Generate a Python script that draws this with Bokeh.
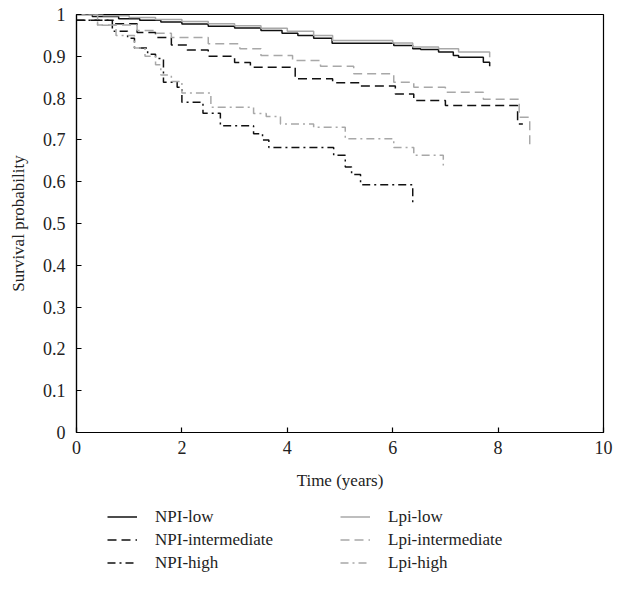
from bokeh.plotting import figure
from bokeh.layouts import column
from bokeh.models import Legend, LegendItem, FixedTicker, Range1d
from bokeh.embed import file_html
from bokeh.resources import INLINE

# ---- data ----
npi_low_t = [0, 0.3, 0.8, 1.2, 1.6, 2.0, 2.5, 3.0, 3.5, 3.9, 4.2, 4.5, 4.85, 6.02, 6.38, 6.53, 6.87, 7.15, 7.25, 7.72, 7.84]
npi_low_s = [1.0, 0.995, 0.99, 0.986, 0.982, 0.977, 0.972, 0.968, 0.962, 0.955, 0.95, 0.943, 0.931, 0.926, 0.918, 0.916, 0.91, 0.902, 0.898, 0.886, 0.876]

lpi_low_t = [0, 0.5, 1.0, 1.5, 2.0, 2.5, 3.0, 3.5, 4.0, 4.5, 4.86, 6.0, 6.38, 6.87, 7.25, 7.84]
lpi_low_s = [1.0, 0.997, 0.993, 0.988, 0.983, 0.978, 0.973, 0.967, 0.96, 0.95, 0.938, 0.932, 0.922, 0.918, 0.91, 0.898]

npi_int_t = [0, 0.7, 1.15, 1.5, 1.8, 2.1, 2.5, 3.0, 3.3, 4.15, 4.86, 5.39, 6.05, 6.4, 7.0, 8.37, 8.47]
npi_int_s = [0.986, 0.978, 0.957, 0.945, 0.927, 0.915, 0.9, 0.885, 0.874, 0.846, 0.837, 0.829, 0.81, 0.794, 0.782, 0.738, 0.738]

lpi_int_t = [0, 0.4, 1.15, 1.5, 1.8, 2.5, 3.1, 3.5, 4.1, 4.63, 5.26, 6.02, 6.4, 7.0, 7.72, 8.4, 8.6]
lpi_int_s = [1.0, 0.975, 0.962, 0.955, 0.945, 0.93, 0.918, 0.902, 0.89, 0.876, 0.858, 0.838, 0.826, 0.814, 0.797, 0.754, 0.68]

npi_high_t = [0, 0.68, 0.97, 1.1, 1.35, 1.5, 1.65, 1.91, 2.0, 2.4, 2.73, 3.36, 3.53, 3.65, 4.88, 5.1, 5.22, 5.39, 6.38]
npi_high_s = [0.986, 0.96, 0.943, 0.92, 0.905, 0.895, 0.838, 0.826, 0.79, 0.764, 0.734, 0.715, 0.7, 0.682, 0.663, 0.635, 0.617, 0.593, 0.551]

lpi_high_t = [0, 0.4, 0.75, 1.1, 1.3, 1.5, 1.6, 1.8, 2.0, 2.55, 3.36, 3.6, 3.87, 4.5, 5.1, 6.02, 6.4, 6.96]
lpi_high_s = [1.0, 0.974, 0.95, 0.92, 0.9, 0.88, 0.855, 0.84, 0.812, 0.778, 0.763, 0.756, 0.738, 0.73, 0.703, 0.682, 0.663, 0.639]

series_labels = ["NPI-low", "NPI-intermediate", "NPI-high", "Lpi-low", "Lpi-intermediate", "Lpi-high"]

x_ticks = [0, 2, 4, 6, 8, 10]
y_ticks = [0, 0.1, 0.2, 0.3, 0.4, 0.5, 0.6, 0.7, 0.8, 0.9, 1.0]
y_tick_labels = ["0", "0.1", "0.2", "0.3", "0.4", "0.5", "0.6", "0.7", "0.8", "0.9", "1"]

FONT = "Liberation Serif"
BLACK = "#111111"
GRAY = "#a8a8a8"
LW = 1.5
styles = [
    dict(line_color=BLACK, line_dash="solid"),
    dict(line_color=BLACK, line_dash="9 5"),
    dict(line_color=BLACK, line_dash="8 4 2 4"),
    dict(line_color=GRAY, line_dash="solid"),
    dict(line_color=GRAY, line_dash="9 5"),
    dict(line_color=GRAY, line_dash="8 4 2 4"),
]
series = [(npi_low_t, npi_low_s), (npi_int_t, npi_int_s), (npi_high_t, npi_high_s),
          (lpi_low_t, lpi_low_s), (lpi_int_t, lpi_int_s), (lpi_high_t, lpi_high_s)]

p = figure(width=619, height=500, output_backend="svg", toolbar_location=None,
           x_range=Range1d(0, 10), y_range=Range1d(0, 1),
           min_border_left=76, min_border_right=16, min_border_top=14, min_border_bottom=68)
p.grid.visible = False
p.outline_line_color = "black"
p.outline_line_width = 1.2

for ax in (p.xaxis[0], p.yaxis[0]):
    ax.major_tick_in = 5
    ax.major_tick_out = 0
    ax.minor_tick_line_color = None
    ax.axis_line_color = "black"
    ax.axis_line_width = 1.2
    ax.major_tick_line_width = 1.2
    ax.major_label_text_font = FONT
    ax.major_label_text_font_size = "18px"
    ax.major_label_text_color = "#222222"
    ax.axis_label_text_font = FONT
    ax.axis_label_text_font_size = "17px"
    ax.axis_label_text_font_style = "normal"
    ax.axis_label_text_color = "#222222"

p.xaxis.ticker = FixedTicker(ticks=x_ticks)
p.yaxis.ticker = FixedTicker(ticks=y_ticks)
p.yaxis.major_label_overrides = {t: l for t, l in zip(y_ticks, y_tick_labels)}
p.xaxis.axis_label = "Time (years)"
p.yaxis.axis_label = "Survival probability"
p.xaxis.major_label_standoff = 8
p.xaxis.axis_label_standoff = 14
p.yaxis.major_label_standoff = 11
p.yaxis.axis_label_standoff = 12

for (t, s), st in zip(series, styles):
    p.step(t, s, mode="after", line_width=LW, **st)

# legend panel: a second figure under the chart; its renderers carry the same
# series but its x range lies beyond the data, so only the legend shows
lg = figure(width=619, height=90, output_backend="svg", toolbar_location=None,
            x_range=Range1d(20, 21), y_range=Range1d(0, 1),
            x_axis_location=None, y_axis_location=None,
            min_border_left=76, min_border_right=16, min_border_top=0, min_border_bottom=0)
lg.grid.visible = False
lg.outline_line_color = None
items = []
for lab, (t, s), st in zip(series_labels, series, styles):
    r = lg.step(t, s, mode="after", line_width=LW, **st)
    items.append(LegendItem(label=lab, renderers=[r]))

legend = Legend(items=items, ncols=2, location=(31, 16), orientation="vertical")
legend.label_text_font = FONT
legend.label_text_font_size = "17px"
legend.label_text_color = "#222222"
legend.glyph_width = 30
legend.glyph_height = 23
legend.label_standoff = 18
legend.label_width = 185
legend.label_height = 23
legend.spacing = 0
legend.padding = 0
legend.margin = 0
legend.border_line_color = None
legend.background_fill_alpha = 0
lg.add_layout(legend, "center")

open("out.html", "w").write(file_html(column(p, lg, spacing=0), INLINE))
